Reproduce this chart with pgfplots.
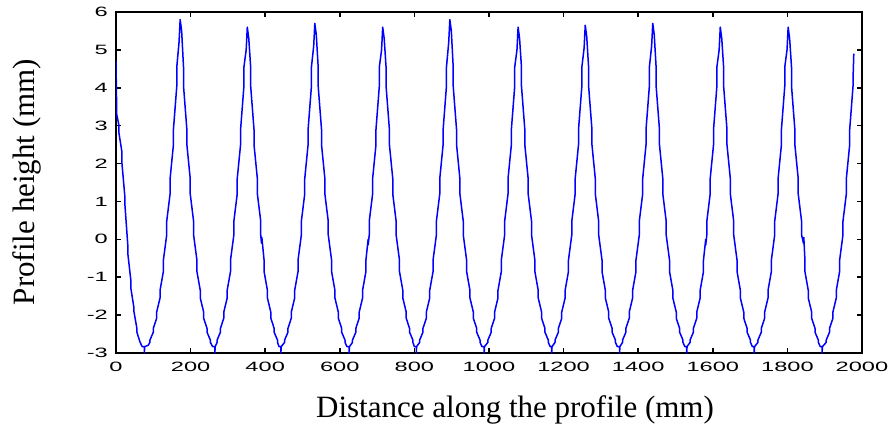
\documentclass[border=0pt]{standalone}
\usepackage{fontspec}
\setmainfont{Liberation Serif}
\newfontfamily\tickfont[FakeStretch=1.75]{Liberation Sans}
\usepackage{pgfplots}
\pgfplotsset{compat=1.18}
\begin{document}
\begin{tikzpicture}
\path[use as bounding box] (-116bp,-75bp) rectangle (772bp,353bp);
\begin{axis}[
  at={(0,0)}, anchor=south west,
  scale only axis, width=746bp, height=341bp,
  xmin=0, xmax=2000, ymin=-3, ymax=6,
  xtick={0,200,...,2000}, ytick={-3,-2,...,6},
  tick align=inside, major tick length=5bp,
  axis line style={line width=1.6bp, black},
  tick style={line width=1.6bp, black},
  /pgf/number format/assume math mode=true,
  /pgf/number format/1000 sep={},
  ticklabel style={font=\tickfont\fontsize{13.5bp}{13.5bp}\selectfont},
  xticklabel style={inner sep=0pt, anchor=north, yshift=-9bp},
  yticklabel style={inner sep=0pt, anchor=east, xshift=-8bp},
]
\addplot[color={rgb,255:red,0;green,0;blue,255}, line width=1.5bp, line join=round] coordinates {
(0,4.7)(2,3.3)(8,3.0)(8,2.8)(16,2.3)(16,2.0)(24,1.1)(24,0.9)(32,-0.2)(32,-0.4)(40,-1.1)(40,-1.3)(48,-1.8)(48,-1.9)(56,-2.35)(56,-2.45)(64,-2.7)(70,-2.83)(76,-2.83)(76,-3.0)(77,-2.83)(86,-2.8)
(91,-2.72)(91,-2.66)(100,-2.45)(100,-2.35)(109,-2.08)(109,-1.92)(118,-1.55)(118,-1.35)(127,-0.85)(127,-0.55)(136,0.12)(136,0.48)(145,1.2)(145,1.6)(154,2.5)(154,2.9)(163,4.05)(163,4.55)(169,5.2)(172,5.8)(176,5.5)(181,4.55)(181,4.05)(190,2.9)(190,2.5)(199,1.6)(199,1.2)(208,0.48)(208,0.12)(217,-0.55)(217,-0.85)(226,-1.35)(226,-1.55)(235,-1.92)(235,-2.08)(244,-2.35)(244,-2.45)(253,-2.66)(253,-2.72)
(259,-2.83)(265,-2.83)(265,-3.0)(266,-2.83)
(271,-2.72)(271,-2.66)(280,-2.45)(280,-2.35)(289,-2.08)(289,-1.92)(298,-1.55)(298,-1.35)(307,-0.85)(307,-0.55)(316,0.12)(316,0.48)(325,1.2)(325,1.6)(334,2.5)(334,2.9)(343,4.05)(343,4.55)(349,5.0)(352,5.6)(356,5.3)(361,4.55)(361,4.05)(370,2.9)(370,2.5)(379,1.6)(379,1.2)(388,0.48)(388,0.12)(390,-0.1)(391,0.05)(397,-0.55)(397,-0.85)(406,-1.35)(406,-1.55)(415,-1.92)(415,-2.08)(424,-2.35)(424,-2.45)(433,-2.66)(433,-2.72)
(437,-2.83)(442,-2.83)(442,-3.0)(443,-2.83)
(452,-2.72)(452,-2.66)(461,-2.45)(461,-2.35)(470,-2.08)(470,-1.92)(479,-1.55)(479,-1.35)(488,-0.85)(488,-0.55)(497,0.12)(497,0.48)(506,1.2)(506,1.6)(515,2.5)(515,2.9)(524,4.05)(524,4.55)(530,5.1)(533,5.7)(537,5.4)(542,4.55)(542,4.05)(551,2.9)(551,2.5)(560,1.6)(560,1.2)(569,0.48)(569,0.12)(578,-0.55)(578,-0.85)(587,-1.35)(587,-1.55)(596,-1.92)(596,-2.08)(605,-2.35)(605,-2.45)(614,-2.66)(614,-2.72)
(619,-2.83)(625,-2.83)(625,-3.0)(626,-2.83)
(634,-2.72)(634,-2.66)(643,-2.45)(643,-2.35)(652,-2.08)(652,-1.92)(661,-1.55)(661,-1.35)(670,-0.85)(670,-0.55)(676,0.0)(676,-0.15)(679,0.12)(679,0.48)(688,1.2)(688,1.6)(697,2.5)(697,2.9)(706,4.05)(706,4.55)(712,5.0)(715,5.6)(719,5.3)(724,4.55)(724,4.05)(733,2.9)(733,2.5)(742,1.6)(742,1.2)(751,0.48)(751,0.12)(760,-0.55)(760,-0.85)(769,-1.35)(769,-1.55)(778,-1.92)(778,-2.08)(787,-2.35)(787,-2.45)(796,-2.66)(796,-2.72)
(800,-2.83)(805,-2.83)(805,-3.0)(806,-2.83)
(814,-2.72)(814,-2.66)(823,-2.45)(823,-2.35)(832,-2.08)(832,-1.92)(841,-1.55)(841,-1.35)(850,-0.85)(850,-0.55)(859,0.12)(859,0.48)(868,1.2)(868,1.6)(877,2.5)(877,2.9)(886,4.05)(886,4.55)(892,5.2)(895,5.8)(899,5.5)(904,4.55)(904,4.05)(913,2.9)(913,2.5)(922,1.6)(922,1.2)(931,0.48)(931,0.12)(940,-0.55)(940,-0.85)(949,-1.35)(949,-1.55)(958,-1.92)(958,-2.08)(967,-2.35)(967,-2.45)(976,-2.66)(976,-2.72)
(981,-2.83)(987,-2.83)(987,-3.0)(988,-2.83)
(997,-2.72)(997,-2.66)(1006,-2.45)(1006,-2.35)(1015,-2.08)(1015,-1.92)(1024,-1.55)(1024,-1.35)(1033,-0.85)(1033,-0.55)(1042,0.12)(1042,0.48)(1051,1.2)(1051,1.6)(1060,2.5)(1060,2.9)(1069,4.05)(1069,4.55)(1075,5.0)(1078,5.6)(1082,5.3)(1087,4.55)(1087,4.05)(1096,2.9)(1096,2.5)(1105,1.6)(1105,1.2)(1114,0.48)(1114,0.12)(1123,-0.55)(1123,-0.85)(1132,-1.35)(1132,-1.55)(1141,-1.92)(1141,-2.08)(1150,-2.35)(1150,-2.45)(1159,-2.66)(1159,-2.72)
(1164,-2.83)(1168,-2.83)(1168,-3.0)(1169,-2.83)
(1177,-2.72)(1177,-2.66)(1186,-2.45)(1186,-2.35)(1195,-2.08)(1195,-1.92)(1204,-1.55)(1204,-1.35)(1213,-0.85)(1213,-0.55)(1222,0.12)(1222,0.48)(1231,1.2)(1231,1.6)(1240,2.5)(1240,2.9)(1249,4.05)(1249,4.55)(1255,5.05)(1258,5.65)(1262,5.35)(1267,4.55)(1267,4.05)(1276,2.9)(1276,2.5)(1285,1.6)(1285,1.2)(1294,0.48)(1294,0.12)(1303,-0.55)(1303,-0.85)(1312,-1.35)(1312,-1.55)(1321,-1.92)(1321,-2.08)(1330,-2.35)(1330,-2.45)(1339,-2.66)(1339,-2.72)
(1344,-2.83)(1350,-2.83)(1350,-3.0)(1351,-2.83)
(1358,-2.72)(1358,-2.66)(1367,-2.45)(1367,-2.35)(1376,-2.08)(1376,-1.92)(1385,-1.55)(1385,-1.35)(1394,-0.85)(1394,-0.55)(1403,0.12)(1403,0.48)(1412,1.2)(1412,1.6)(1421,2.5)(1421,2.9)(1430,4.05)(1430,4.55)(1436,5.1)(1439,5.7)(1443,5.4)(1448,4.55)(1448,4.05)(1457,2.9)(1457,2.5)(1466,1.6)(1466,1.2)(1475,0.48)(1475,0.12)(1484,-0.55)(1484,-0.85)(1493,-1.35)(1493,-1.55)(1502,-1.92)(1502,-2.08)(1511,-2.35)(1511,-2.45)(1520,-2.66)(1520,-2.72)
(1525,-2.83)(1530,-2.83)(1530,-3.0)(1531,-2.83)
(1539,-2.72)(1539,-2.66)(1548,-2.45)(1548,-2.35)(1557,-2.08)(1557,-1.92)(1566,-1.55)(1566,-1.35)(1575,-0.85)(1575,-0.55)(1581,0.0)(1581,-0.15)(1584,0.12)(1584,0.48)(1593,1.2)(1593,1.6)(1602,2.5)(1602,2.9)(1611,4.05)(1611,4.55)(1617,5.0)(1620,5.6)(1624,5.3)(1629,4.55)(1629,4.05)(1638,2.9)(1638,2.5)(1647,1.6)(1647,1.2)(1656,0.48)(1656,0.12)(1665,-0.55)(1665,-0.85)(1674,-1.35)(1674,-1.55)(1683,-1.92)(1683,-2.08)(1692,-2.35)(1692,-2.45)(1701,-2.66)(1701,-2.72)
(1706,-2.83)(1711,-2.83)(1711,-3.0)(1712,-2.83)
(1721,-2.72)(1721,-2.66)(1730,-2.45)(1730,-2.35)(1739,-2.08)(1739,-1.92)(1748,-1.55)(1748,-1.35)(1757,-0.85)(1757,-0.55)(1766,0.12)(1766,0.48)(1775,1.2)(1775,1.6)(1784,2.5)(1784,2.9)(1793,4.05)(1793,4.55)(1799,5.0)(1802,5.6)(1806,5.3)(1811,4.55)(1811,4.05)(1820,2.9)(1820,2.5)(1829,1.6)(1829,1.2)(1838,0.48)(1838,0.12)(1843,-0.1)(1844,0.05)(1847,-0.55)(1847,-0.85)(1856,-1.35)(1856,-1.55)(1865,-1.92)(1865,-2.08)(1874,-2.35)(1874,-2.45)(1883,-2.66)(1883,-2.72)
(1888,-2.83)(1893,-2.83)(1893,-3.0)(1894,-2.83)
(1904,-2.72)(1904,-2.66)(1913,-2.45)(1913,-2.35)(1922,-2.08)(1922,-1.92)(1931,-1.55)(1931,-1.35)(1940,-0.85)(1940,-0.55)(1949,0.12)(1949,0.48)(1958,1.2)(1958,1.6)(1967,2.5)(1967,2.9)(1976,4.05)(1976,4.25)(1978,4.9)
};
\end{axis}
\node[anchor=base, font=\fontsize{31bp}{31bp}\selectfont] at (399bp,-64bp) {Distance along the profile (mm)};
\node[rotate=90, anchor=base, font=\fontsize{31bp}{31bp}\selectfont] at (-81bp,171bp) {Profile height (mm)};
\end{tikzpicture}
\end{document}
